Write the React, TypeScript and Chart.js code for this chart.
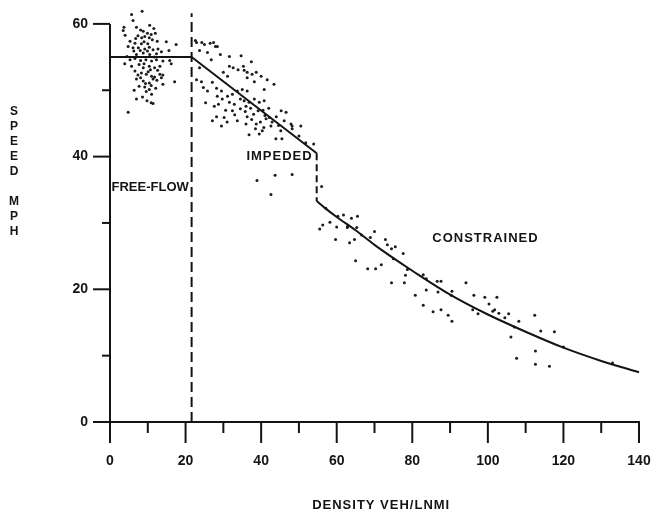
import React, { useEffect, useRef } from "react";
import { Chart, registerables } from "chart.js";

Chart.register(...registerables);

// ---- observed data (density veh/lane-mile, speed mph) ----
const freeFlowDensity = [
  8.5, 5.7, 6.1, 3.7, 3.5, 7.0, 8.1, 8.8, 10.5, 11.6, 9.2, 8.4, 10.4, 5.3, 6.6, 8.3, 11.2, 12.5, 14.9, 17.5,
  4.8, 6.1, 7.5, 9.2, 10.4, 11.4, 12.7, 7.0, 8.8, 10.5, 12.3, 5.3, 6.6, 8.1, 9.5, 11.0, 12.3, 14.0, 15.8, 5.7,
  7.7, 8.8, 10.4, 11.8, 13.2, 6.6, 8.3, 9.6, 11.0, 11.8, 13.2, 14.0, 7.0, 8.8, 10.4, 11.4, 14.0, 17.1, 7.7, 9.2,
  10.4, 9.6, 11.0, 7.0, 8.6, 9.8, 11.4, 4.8, 9.9, 7.4, 10.9, 6.3, 8.0, 9.9, 11.7, 13.6, 4.5, 9.0, 10.7, 12.6,
  7.4, 10.1, 12.4, 13.6, 8.1, 9.4, 10.9, 12.1, 9.0, 10.0, 6.8, 12.0, 4.0, 15.6, 16.2, 3.9, 6.4, 10.9,
];
const freeFlowSpeed = [
  61.9, 61.4, 60.5, 59.5, 59.0, 59.5, 59.1, 58.9, 59.8, 59.3, 58.1, 57.9, 57.9, 57.4, 57.1, 57.0, 57.6, 57.4, 57.3, 56.9,
  56.6, 56.4, 56.4, 56.2, 56.5, 56.1, 56.2, 55.4, 55.6, 55.4, 55.5, 54.6, 54.8, 54.5, 54.6, 54.4, 54.6, 54.4, 54.5, 53.6,
  53.9, 53.4, 53.6, 53.4, 53.6, 52.9, 52.6, 52.4, 52.1, 52.0, 52.4, 52.3, 51.7, 51.4, 51.1, 51.7, 50.9, 51.3, 50.6, 50.5,
  50.1, 49.8, 49.4, 48.7, 49.0, 48.4, 48.0, 46.7, 58.6, 58.2, 58.4, 55.9, 56.0, 55.9, 55.0, 55.8, 55.1, 54.0, 53.1, 53.0,
  52.3, 52.8, 51.5, 51.9, 51.9, 51.0, 50.7, 50.3, 57.3, 57.0, 57.8, 58.6, 58.3, 56.0, 54.0, 54.0, 50.0, 48.1,
];

const impededDensity = [
  22.9, 25.0, 27.4, 28.4, 25.8, 26.8, 23.7, 29.2, 31.6, 34.7, 37.4, 32.6, 33.9, 35.3, 35.5, 36.3, 30.0, 31.1, 38.7, 40.0,
  41.6, 43.4, 38.2, 36.3, 22.9, 24.2, 24.7, 25.8, 28.2, 29.5, 28.4, 29.7, 31.1, 32.4, 33.7, 35.0, 36.3, 34.5, 35.5, 36.8,
  38.2, 39.5, 40.8, 32.9, 31.6, 27.6, 25.3, 23.7, 27.1, 28.7, 28.2, 29.5, 27.1, 32.4, 33.7, 36.3, 38.7, 41.3, 39.5, 38.9,
  43.7, 48.2, 42.6, 46.6, 50.5, 31.6, 37.6, 40.8, 45.3, 42.9, 46.1, 43.9, 45.5, 48.2, 50.0, 53.9, 47.9, 48.2, 36.8, 36.0,
  38.5, 40.3, 42.6, 51.8, 34.5, 35.8, 37.2, 38.0, 39.2, 40.5, 41.0, 42.0, 37.5, 39.8, 40.7, 42.2, 44.0, 44.6, 45.2, 36.0,
  33.0, 30.6, 30.2, 31.0, 22.6, 24.3, 26.5, 27.9,
];
const impededSpeed = [
  57.2, 56.9, 57.2, 56.6, 55.7, 54.6, 56.0, 55.4, 55.1, 55.2, 54.3, 53.4, 53.1, 53.6, 53.0, 52.7, 52.7, 52.1, 52.7, 52.1,
  51.6, 50.9, 51.3, 51.9, 51.6, 51.3, 50.4, 49.9, 50.3, 49.9, 49.1, 48.7, 49.1, 49.4, 49.9, 50.1, 49.9, 48.7, 48.4, 48.2,
  48.7, 48.2, 48.4, 47.9, 48.2, 47.6, 48.1, 53.4, 51.2, 47.9, 46.0, 44.6, 45.4, 46.9, 45.4, 46.0, 44.9, 45.7, 43.4, 36.4,
  37.2, 37.3, 34.3, 46.7, 44.6, 53.6, 52.4, 50.1, 46.9, 45.2, 45.4, 42.7, 42.7, 44.6, 43.1, 41.9, 44.9, 44.2, 43.3, 44.9,
  44.2, 43.9, 44.6, 42.1, 47.2, 46.8, 47.3, 46.4, 46.9, 47.0, 46.2, 47.3, 45.6, 45.2, 44.4, 45.9, 46.0, 44.7, 43.9, 47.6,
  46.3, 47.0, 45.9, 45.2, 57.5, 57.2, 57.1, 56.6,
];

const constrainedDensity = [
  56.0, 55.5, 56.3, 58.2, 60.3, 61.8, 63.9, 65.5, 60.0, 62.9, 65.3, 59.7, 63.4, 64.7, 66.6, 70.0, 68.9, 72.9, 73.4, 74.5,
  75.5, 77.6, 65.0, 68.2, 70.3, 71.8, 75.0, 74.5, 77.9, 78.2, 82.9, 83.7, 86.6, 87.6, 80.8, 83.7, 86.8, 90.5, 82.9, 94.2,
  85.5, 87.6, 89.5, 90.5, 96.3, 99.2, 102.4, 100.3, 96.0, 97.4, 101.3, 102.9, 101.8, 104.5, 105.5, 108.2, 112.4, 106.1, 114.0, 117.6,
  112.6, 107.6, 112.6, 116.3, 133.0, 57.1, 78.7, 90.3, 107.0, 120.0, 62.8,
];
const constrainedSpeed = [
  35.5, 29.1, 29.7, 30.1, 31.0, 31.2, 30.7, 31.0, 29.4, 29.5, 29.3, 27.5, 27.0, 27.5, 28.2, 28.7, 27.8, 27.5, 26.7, 26.1,
  26.4, 25.4, 24.3, 23.1, 23.1, 23.7, 24.6, 21.0, 21.0, 22.1, 22.2, 21.6, 21.2, 21.2, 19.1, 19.9, 19.6, 19.7, 17.6, 21.0,
  16.6, 16.9, 16.1, 15.2, 19.1, 18.8, 18.8, 17.8, 16.9, 16.3, 16.7, 16.4, 16.9, 15.7, 16.3, 15.2, 16.1, 12.8, 13.7, 13.6,
  10.7, 9.6, 8.7, 8.4, 8.9, 32.2, 23.0, 19.1, 14.3, 11.3, 29.3,
];

// ---- fitted model lines ----
const freeFlowLineDensity = [0, 21.6];
const freeFlowLineSpeed = [55, 55];
const impededLineDensity = [21.6, 54.7];
const impededLineSpeed = [55, 40.5];
const breakLineDensity = [54.7, 54.7];
const breakLineSpeed = [40.5, 33.3];
const boundaryDensity = [21.6, 21.6];
const boundarySpeed = [0, 61.6];
const constrainedCurveDensity = [54.7, 57, 60, 65, 70, 75, 80, 90, 100, 110, 120, 130, 140];
const constrainedCurveSpeed = [33.3, 32.2, 30.9, 28.9, 26.7, 24.7, 22.8, 19.2, 16.2, 13.6, 11.2, 9.2, 7.5];

// ---- axes / labels ----
const xMajorTicks = [0, 20, 40, 60, 80, 100, 120, 140];
const xMinorTicks = [10, 30, 50, 70, 90, 110, 130];
const yMajorTicks = [0, 20, 40, 60];
const yMinorTicks = [10, 30, 50];
const regionLabels = ["FREE-FLOW", "IMPEDED", "CONSTRAINED"];
const regionLabelDensity = [0.4, 36.1, 85.3];
const regionLabelSpeed = [35.4, 40.0, 27.6];
const xTitle = "DENSITY VEH/LNMI";
const yTitleLetters = ["S", "P", "E", "E", "D", "", "M", "P", "H"];

const zip = (xs: number[], ys: number[]) => xs.map((x, i) => ({ x, y: ys[i] }));

const INK = "#141414";
const FONT = "'Liberation Sans', Arial, sans-serif";

const axesPlugin = {
  id: "paperAxes",
  afterDraw(chart: any) {
    const ctx = chart.ctx as any;
    const xs = chart.scales.x;
    const ys = chart.scales.y;
    const x0 = xs.getPixelForValue(0);
    const y0 = ys.getPixelForValue(0);
    ctx.save();
    ctx.strokeStyle = INK;
    ctx.fillStyle = INK;
    ctx.lineWidth = 2;
    ctx.lineCap = "butt";
    // y axis
    ctx.beginPath();
    ctx.moveTo(x0, ys.getPixelForValue(60));
    ctx.lineTo(x0, y0 + 21);
    ctx.stroke();
    // x axis
    ctx.beginPath();
    ctx.moveTo(x0, y0);
    ctx.lineTo(xs.getPixelForValue(140) + 1, y0);
    ctx.stroke();
    // y ticks
    yMajorTicks.forEach((v) => {
      const p = ys.getPixelForValue(v);
      ctx.beginPath();
      ctx.moveTo(x0 - 17, p);
      ctx.lineTo(x0, p);
      ctx.stroke();
    });
    yMinorTicks.forEach((v) => {
      const p = ys.getPixelForValue(v);
      ctx.beginPath();
      ctx.moveTo(x0 - 8, p);
      ctx.lineTo(x0, p);
      ctx.stroke();
    });
    // x ticks
    xMajorTicks.forEach((v) => {
      const p = xs.getPixelForValue(v);
      ctx.beginPath();
      ctx.moveTo(p, y0);
      ctx.lineTo(p, y0 + 21);
      ctx.stroke();
    });
    xMinorTicks.forEach((v) => {
      const p = xs.getPixelForValue(v);
      ctx.beginPath();
      ctx.moveTo(p, y0);
      ctx.lineTo(p, y0 + 11);
      ctx.stroke();
    });
    // tick labels
    ctx.font = `bold 14px ${FONT}`;
    ctx.textAlign = "center";
    ctx.textBaseline = "middle";
    xMajorTicks.forEach((v) => {
      ctx.fillText(String(v), xs.getPixelForValue(v), y0 + 39);
    });
    ctx.textAlign = "right";
    yMajorTicks.forEach((v) => {
      ctx.fillText(String(v), x0 - 22, ys.getPixelForValue(v));
    });
    // region labels
    ctx.textAlign = "left";
    ctx.font = `bold 13px ${FONT}`;
    regionLabels.forEach((t, i) => {
      ctx.letterSpacing = i === 0 ? "0px" : "1px";
      ctx.fillText(t, xs.getPixelForValue(regionLabelDensity[i]), ys.getPixelForValue(regionLabelSpeed[i]));
    });
    // axis titles
    ctx.font = `bold 13px ${FONT}`;
    ctx.letterSpacing = "1px";
    ctx.textAlign = "left";
    ctx.fillText(xTitle, xs.getPixelForValue(53.5), 505);
    ctx.letterSpacing = "0px";
    ctx.font = `bold 12px ${FONT}`;
    ctx.textAlign = "center";
    yTitleLetters.forEach((ch, i) => {
      if (ch) ctx.fillText(ch, 14, 112 + i * 15);
    });
    ctx.restore();
  },
};

export default function App() {
  const ref = useRef<HTMLCanvasElement | null>(null);
  useEffect(() => {
    if (!ref.current) return;
    const lineStyle = {
      type: "line" as const,
      showLine: true,
      borderColor: INK,
      borderWidth: 2,
      pointRadius: 0,
      fill: false,
    };
    const dots = {
      type: "scatter" as const,
      pointRadius: 1.5,
      pointBackgroundColor: "#1c1c1c",
      pointBorderWidth: 0,
    };
    const chart = new Chart(ref.current, {
      type: "scatter",
      data: {
        datasets: [
          { ...lineStyle, data: zip(freeFlowLineDensity, freeFlowLineSpeed) },
          { ...lineStyle, data: zip(impededLineDensity, impededLineSpeed) },
          { ...lineStyle, borderDash: [7, 4], data: zip(breakLineDensity, breakLineSpeed) },
          { ...lineStyle, borderDash: [10, 5], data: zip(boundaryDensity, boundarySpeed) },
          {
            ...lineStyle,
            cubicInterpolationMode: "monotone",
            data: zip(constrainedCurveDensity, constrainedCurveSpeed),
          },
          { ...dots, data: zip(freeFlowDensity, freeFlowSpeed) },
          { ...dots, data: zip(impededDensity, impededSpeed) },
          { ...dots, data: zip(constrainedDensity, constrainedSpeed) },
        ] as any,
      },
      options: {
        responsive: false,
        animation: false,
        clip: false as any,
        layout: { padding: { left: 110, right: 13, top: 0, bottom: 92 } },
        plugins: { legend: { display: false }, tooltip: { enabled: false }, title: { display: false } },
        scales: {
          x: { type: "linear", min: 0, max: 140, display: false },
          y: { type: "linear", min: 0, max: 63, display: false },
        },
      },
      plugins: [axesPlugin],
    });
    return () => chart.destroy();
  }, []);
  return (
    <div style={{ position: "absolute", left: 0, top: 0, width: 652, height: 514, background: "#fff" }}>
      <canvas ref={ref} width={652} height={514} style={{ display: "block" }} />
    </div>
  );
}
